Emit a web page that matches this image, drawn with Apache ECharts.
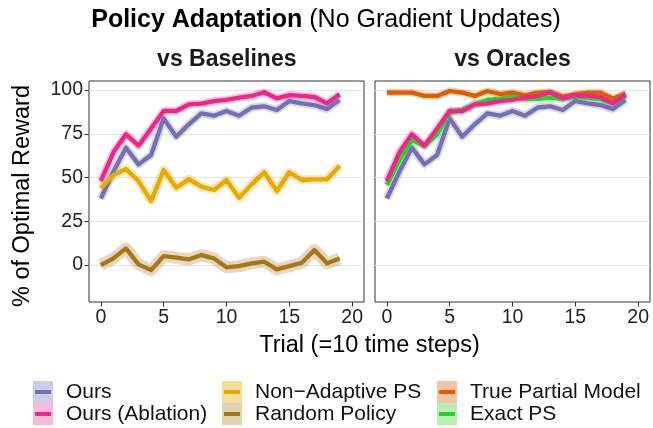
<!DOCTYPE html>
<html>
<head>
<meta charset="utf-8">
<script src="https://cdn.jsdelivr.net/npm/echarts@6/dist/echarts.min.js"></script>
<style>
html,body{margin:0;padding:0;background:#fff;}
#chart{width:653px;height:428px;}
</style>
</head>
<body>
<div id="chart"></div>
<script>
// ---- data ----
const trials = [0,1,2,3,4,5,6,7,8,9,10,11,12,13,14,15,16,17,18,19];
const xTicks = [0,5,10,15,20];
const yTicks = [0,25,50,75,100];
const ours            = [38,53.3,67,57.5,62.9,83.8,73.3,80.4,86.7,85.3,88,85.3,90,90.7,88.6,93.7,92.4,91.4,89.1,94.3];
const oursAblation    = [48,64.4,74.7,68.2,78,88,88,91.8,92.2,93.7,94.3,95.6,96.6,98.7,95.2,97.1,96.6,96,92.4,97.5];
const nonAdaptivePS   = [43.8,51.4,54.9,48,36.6,54.3,44.2,49.1,44.8,42.9,48.6,38.5,46.1,53,42.3,53,48.6,49,49,56.8];
const randomPolicy    = [0,3.8,9.5,0.4,-2.9,5.1,4.2,3.2,5.7,3.8,-1.3,-0.6,1,1.9,-2.5,-0.6,1.3,8.6,1,3.8];
const truePartialModel= [98.5,98.5,98.5,96.6,96.6,99.4,98.5,96.6,99.4,97.7,98.5,97,98.5,98.7,96.2,97.5,98.5,98.5,95.2,98];
const exactPS         = [45.7,60,71.4,68.2,74.7,87.2,88.6,91.8,94.3,94.9,96.2,94.9,94.9,95.6,94.9,96.2,95.6,94.9,92.4,96.8];

const colors = {
  'Ours': '#7570b3',
  'Ours (Ablation)': '#e7298a',
  'Non\u2212Adaptive PS': '#e6ab02',
  'Random Policy': '#a6761d',
  'True Partial Model': '#d95f02',
  'Exact PS': '#2ecc2e'
};
const keyFill = {
  'Ours': '#cfcde6',
  'Ours (Ablation)': '#f6bcd9',
  'Non\u2212Adaptive PS': '#f5dd9b',
  'Random Policy': '#e3d3b5',
  'True Partial Model': '#f3c4a2',
  'Exact PS': '#b8edb8'
};

function keyIcon(name){
  const svg = '<svg xmlns="http://www.w3.org/2000/svg" width="20" height="22">' +
    '<rect width="20" height="22" fill="' + keyFill[name] + '"/>' +
    '<rect x="2" y="9" width="16" height="4" fill="' + colors[name] + '"/></svg>';
  return 'image://data:image/svg+xml;charset=utf-8,' + encodeURIComponent(svg);
}

const panels = [
  {grid:0, items:[['Ours',ours,8],['Ours (Ablation)',oursAblation,8],['Non\u2212Adaptive PS',nonAdaptivePS,9],['Random Policy',randomPolicy,12]]},
  {grid:1, items:[['Ours',ours,8],['True Partial Model',truePartialModel,7.5],['Exact PS',exactPS,8],['Ours (Ablation)',oursAblation,8]]}
];

const series = [];
panels.forEach(p => {
  p.items.forEach(([name, vals, rw]) => {
    series.push({
      type:'line', name:name, xAxisIndex:p.grid, yAxisIndex:p.grid,
      data: trials.map((t,i)=>[t, vals[i]]), showSymbol:false, symbol:'none', z:2,
      lineStyle:{color:colors[name], width:rw, opacity:0.28, join:'round'},
      itemStyle:{color:colors[name]}, silent:true
    });
  });
  p.items.forEach(([name, vals]) => {
    series.push({
      type:'line', name:name, xAxisIndex:p.grid, yAxisIndex:p.grid,
      data: trials.map((t,i)=>[t, vals[i]]), showSymbol:false, symbol:'none', z:3,
      lineStyle:{color:colors[name], width:4.3, join:'round'},
      itemStyle:{color:colors[name]}, silent:true
    });
  });
});

const font = 'Liberation Sans, Arial, sans-serif';
const gridCommon = {top:81, width:275, height:221, show:true, borderColor:'#333', borderWidth:1, backgroundColor:'#fff', containLabel:false};

function xAxisDef(i){
  return {
    type:'value', gridIndex:i, min:-0.94, max:20.94,
    axisLine:{show:false, onZero:false},
    axisTick:{show:true, length:4.5, lineStyle:{color:'#333'}, customValues:xTicks},
    axisLabel:{show:true, customValues:xTicks, fontSize:19.5, color:'#222', fontFamily:font, margin:6},
    splitLine:{show:false}
  };
}
function yAxisDef(i){
  return {
    type:'value', gridIndex:i, min:-21.1, max:105.14,
    axisLine:{show:false, onZero:false},
    axisTick:{show:i===0, length:4.5, lineStyle:{color:'#333'}, customValues:yTicks},
    axisLabel:{show:i===0, customValues:yTicks, fontSize:19.5, color:'#222', fontFamily:font, margin:6},
    splitLine:{show:true, lineStyle:{color:'#e5e5e5', width:1}}
  };
}

function legendCol(names, left){
  return {
    orient:'vertical', left:left, top:381, padding:0, itemWidth:20, itemHeight:22, itemGap:0,
    selectedMode:false,
    textStyle:{fontSize:21, lineHeight:22, color:'#111', fontFamily:font, padding:[0,0,0,8]},
    data: names.map(n => ({name:n, icon:keyIcon(n)}))
  };
}

const option = {
  animation:false,
  backgroundColor:'#fff',
  textStyle:{fontFamily:font},
  grid:[Object.assign({left:89}, gridCommon), Object.assign({left:375}, gridCommon)],
  xAxis:[xAxisDef(0), xAxisDef(1)],
  yAxis:[yAxisDef(0), yAxisDef(1)],
  legend:[
    legendCol(['Ours','Ours (Ablation)'], 33),
    legendCol(['Non\u2212Adaptive PS','Random Policy'], 222),
    legendCol(['True Partial Model','Exact PS'], 437)
  ],
  graphic:[
    {type:'text', x:326, y:20, style:{text:'{b|Policy Adaptation} (No Gradient Updates)', font:'25px ' + font, fill:'#000', align:'center', verticalAlign:'middle',
      rich:{b:{fontWeight:'bold', fontSize:25, fontFamily:font, fill:'#000'}}}},
    {type:'text', x:226.8, y:60, style:{text:'vs Baselines', font:'bold 23px ' + font, fill:'#1a1a1a', align:'center', verticalAlign:'middle'}},
    {type:'text', x:512.5, y:60, style:{text:'vs Oracles', font:'bold 23px ' + font, fill:'#1a1a1a', align:'center', verticalAlign:'middle'}},
    {type:'text', x:369.5, y:346, style:{text:'Trial (=10 time steps)', font:'23.5px ' + font, fill:'#000', align:'center', verticalAlign:'middle'}},
    {type:'text', x:23, y:196, rotation:Math.PI/2, style:{text:'% of Optimal Reward', font:'23.5px ' + font, fill:'#000', align:'center', verticalAlign:'middle'}}
  ],
  series:series
};

const chart = echarts.init(document.getElementById('chart'), null, {renderer:'canvas'});
chart.setOption(option);
</script>
</body>
</html>
